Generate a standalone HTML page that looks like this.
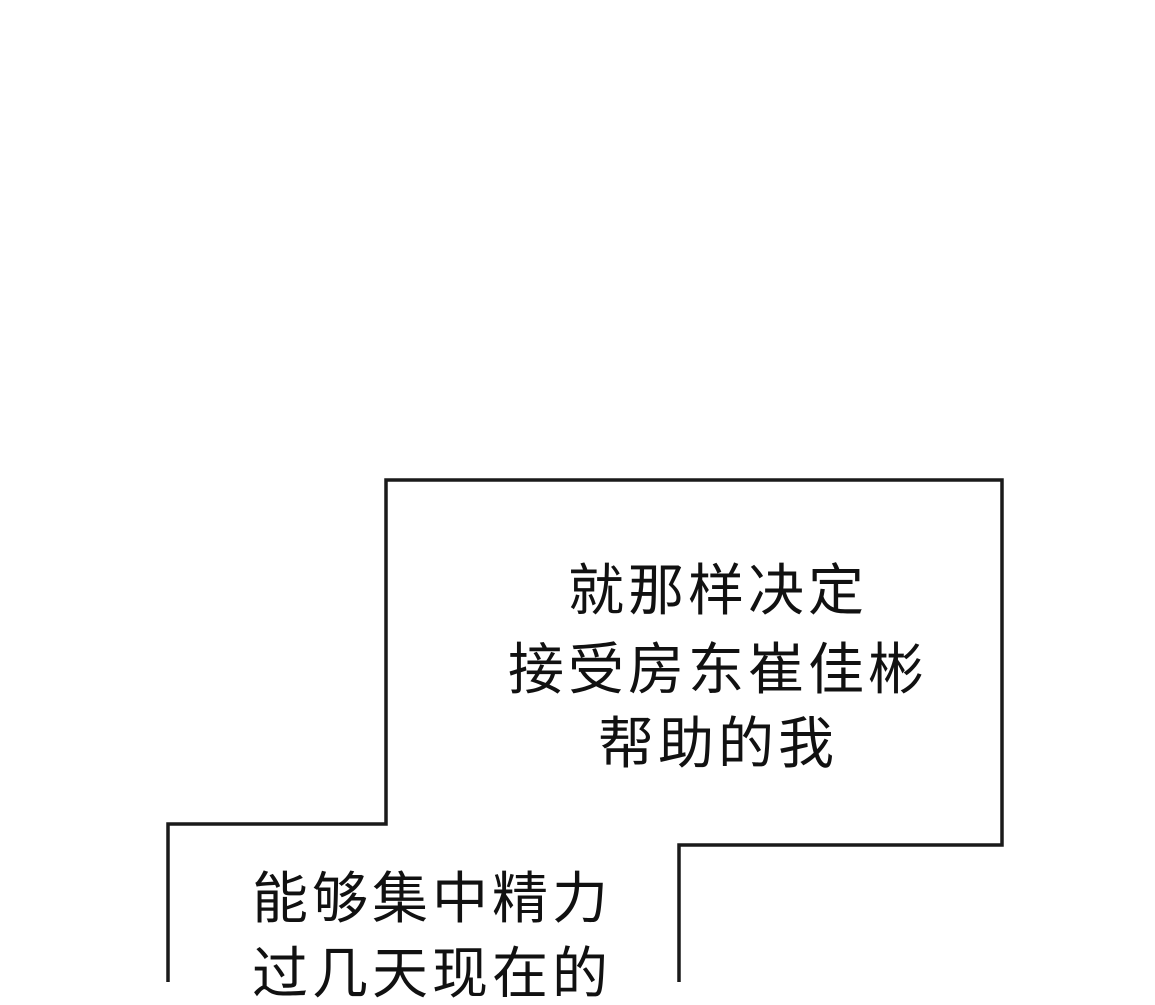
<!DOCTYPE html>
<html><head><meta charset="utf-8"><style>
html,body{margin:0;padding:0;background:#fff;}
body{width:1155px;height:982px;position:relative;overflow:hidden;font-family:"Liberation Sans","Noto Sans CJK SC",sans-serif;color:#111;}
.t{position:absolute;font-size:56px;line-height:56px;letter-spacing:4px;white-space:nowrap;text-align:center;}
</style></head><body>
<svg width="1155" height="982" style="position:absolute;left:0;top:0">
<polyline points="168,990 168,824 386,824 386,480 1002,480 1002,845 679,845 679,990" fill="none" stroke="#1a1a1a" stroke-width="3.5" stroke-linejoin="miter"/>
</svg>
<div class="t" style="left:418px;width:600px;top:563px;">就那样决定</div>
<div class="t" style="left:418px;width:600px;top:642px;">接受房东崔佳彬</div>
<div class="t" style="left:418px;width:600px;top:716px;">帮助的我</div>
<div class="t" style="left:132px;width:600px;top:871px;">能够集中精力</div>
<div class="t" style="left:132px;width:600px;top:946px;">过几天现在的</div>
</body></html>
